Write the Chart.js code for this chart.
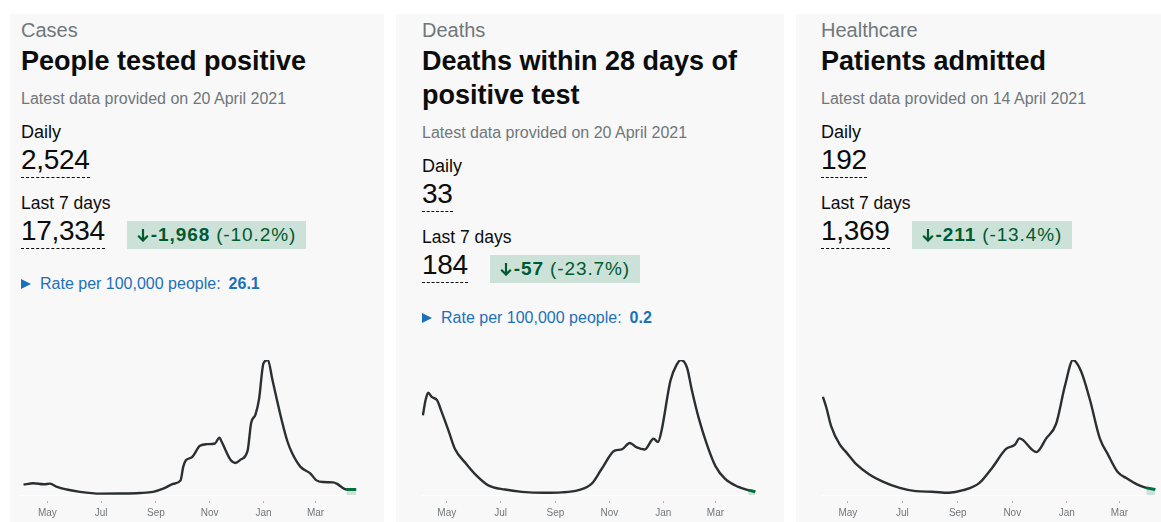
<!DOCTYPE html>
<html>
<head>
<meta charset="utf-8">
<script src="https://cdn.jsdelivr.net/npm/chart.js@4.4.0/dist/chart.umd.min.js"></script>
<style>
  body { margin: 0; background: #fff; width: 1161px; height: 522px; overflow: hidden; position: relative;
         font-family: "Liberation Sans", Arial, sans-serif; color: #0b0c0c; }
  .card { position: absolute; top: 14px; height: 540px; background: #f8f8f8; box-sizing: border-box; padding-right: 26px; }
  .cap { font-size: 20px; line-height: 32px; color: #6f777b; }
  h2 { font-size: 27px; line-height: 34px; margin: -2px 0 0; font-weight: bold; }
  .date { font-size: 16px; line-height: 20px; margin: 11px 0 0; color: #6f777b; }
  .lbl { font-size: 18px; line-height: 22px; margin-top: 12px; }
  .lbl.l7 { margin-top: 14px; font-size: 17.5px; }
  .num { display: flex; align-items: flex-end; }
  .num .v { font-size: 28px; line-height: 34px; border-bottom: 1px dashed #0b0c0c; letter-spacing: -0.3px; }
  .badge { margin-left: 22px; height: 28px; line-height: 28px; padding: 0 10px; background: #cce2d8; color: #005a30;
           font-size: 19px; letter-spacing: 0.9px; display: flex; align-items: center; white-space: nowrap; }
  .badge svg { margin-right: 2px; }
  .badge b { margin-right: 6px; }
  .rate { font-size: 16px; line-height: 20px; margin-top: 25px; color: #1d70b8; display: flex; align-items: center; }
  .rate .tri { width: 0; height: 0; border-left: 10px solid #1d70b8; border-top: 5.5px solid transparent;
               border-bottom: 5.5px solid transparent; margin-right: 9px; }
  .rate b { margin-left: 8px; }
  .chart { position: absolute; top: 326px; height: 183px; }
</style>
</head>
<body>

<div class="card" style="left:10px;width:374px;padding-left:11px">
  <div class="cap">Cases</div>
  <h2>People tested positive</h2>
  <p class="date">Latest data provided on 20 April 2021</p>
  <div class="lbl">Daily</div>
  <div class="num"><span class="v">2,524</span></div>
  <div class="lbl l7">Last 7 days</div>
  <div class="num"><span class="v">17,334</span>
    <span class="badge"><svg width="12" height="14" viewBox="0 0 12 14"><path d="M6 1V12.5M1.2 7.8L6 12.6 10.8 7.8" fill="none" stroke="#005a30" stroke-width="2.2"/></svg><b>-1,968</b>(-10.2%)</span></div>
  <div class="rate"><span class="tri"></span>Rate per 100,000 people:<b>26.1</b></div>
  <div class="chart" style="left:10px;width:337px"><canvas id="casesChart"></canvas></div>
</div>

<div class="card" style="left:396px;width:388px;padding-left:26px">
  <div class="cap">Deaths</div>
  <h2>Deaths within 28 days of positive test</h2>
  <p class="date">Latest data provided on 20 April 2021</p>
  <div class="lbl">Daily</div>
  <div class="num"><span class="v">33</span></div>
  <div class="lbl l7">Last 7 days</div>
  <div class="num"><span class="v">184</span>
    <span class="badge"><svg width="12" height="14" viewBox="0 0 12 14"><path d="M6 1V12.5M1.2 7.8L6 12.6 10.8 7.8" fill="none" stroke="#005a30" stroke-width="2.2"/></svg><b>-57</b>(-23.7%)</span></div>
  <div class="rate"><span class="tri"></span>Rate per 100,000 people:<b>0.2</b></div>
  <div class="chart" style="left:26px;width:335px"><canvas id="deathsChart"></canvas></div>
</div>

<div class="card" style="left:796px;width:390px;padding-left:25px">
  <div class="cap">Healthcare</div>
  <h2>Patients admitted</h2>
  <p class="date">Latest data provided on 14 April 2021</p>
  <div class="lbl">Daily</div>
  <div class="num"><span class="v">192</span></div>
  <div class="lbl l7">Last 7 days</div>
  <div class="num"><span class="v">1,369</span>
    <span class="badge"><svg width="12" height="14" viewBox="0 0 12 14"><path d="M6 1V12.5M1.2 7.8L6 12.6 10.8 7.8" fill="none" stroke="#005a30" stroke-width="2.2"/></svg><b>-211</b>(-13.4%)</span></div>
  <div class="chart" style="left:26px;width:335px"><canvas id="admissionsChart"></canvas></div>
</div>

<script>
// month ticks on the x axis
const monthTicks = ['2020-05-01', '2020-07-01', '2020-09-01', '2020-11-01', '2021-01-01', '2021-03-01'];
const monthLabels = ['May', 'Jul', 'Sep', 'Nov', 'Jan', 'Mar'];

// Cases - people tested positive
const casesDates = ['2020-04-04', '2020-04-15', '2020-04-27', '2020-05-04', '2020-05-12', '2020-05-23', '2020-06-07',
    '2020-06-30', '2020-07-22', '2020-08-14', '2020-08-29', '2020-09-10', '2020-09-21', '2020-09-29', '2020-10-02',
    '2020-10-05', '2020-10-12', '2020-10-21', '2020-10-29', '2020-11-07', '2020-11-12', '2020-11-15', '2020-11-25',
    '2020-11-30', '2020-12-06', '2020-12-14', '2020-12-18', '2020-12-23', '2020-12-27', '2021-01-01', '2021-01-06',
    '2021-01-11', '2021-01-16', '2021-01-22', '2021-01-28', '2021-02-02', '2021-02-12', '2021-02-23', '2021-03-02',
    '2021-03-10', '2021-03-21', '2021-03-25', '2021-04-05', '2021-04-16'];
const casesValues = [4600, 5200, 4750, 5050, 3600, 2450, 1400, 600, 650, 900, 1400, 2900, 5000, 6500, 12500,
    15400, 16800, 21900, 22600, 22900, 25500, 23300, 15400, 14250, 15700, 19700, 32000, 35800, 42700, 58600, 60000,
    51400, 42700, 32700, 24000, 19000, 12500, 9600, 6500, 5750, 5600, 5050, 2450, 2450];
const casesRecentFrom = '2021-04-05';

// Deaths within 28 days of positive test
const deathsDates = ['2020-04-04', '2020-04-07', '2020-04-10', '2020-04-14', '2020-04-20', '2020-04-25', '2020-05-03',
    '2020-05-10', '2020-05-22', '2020-06-02', '2020-06-17', '2020-07-06', '2020-07-25', '2020-08-20', '2020-09-08',
    '2020-09-27', '2020-10-12', '2020-10-23', '2020-11-07', '2020-11-15', '2020-11-24', '2020-12-02', '2020-12-11',
    '2020-12-21', '2020-12-26', '2020-12-30', '2021-01-09', '2021-01-16', '2021-01-21', '2021-01-28', '2021-02-02',
    '2021-02-10', '2021-02-19', '2021-03-01', '2021-03-12', '2021-03-27', '2021-04-07', '2021-04-15'];
const deathsValues = [803, 955, 1030, 988, 955, 842, 648, 469, 324, 210, 97, 55, 32, 22, 26,
    49, 114, 259, 447, 459, 524, 479, 459, 566, 534, 648, 1149, 1311, 1360, 1279, 1068,
    777, 518, 291, 162, 81, 49, 32];
const deathsRecentFrom = '2021-04-07';

// Healthcare - patients admitted
const admissionsDates = ['2020-04-03', '2020-04-07', '2020-04-12', '2020-04-22', '2020-04-29', '2020-05-10', '2020-05-25',
    '2020-06-09', '2020-06-28', '2020-07-16', '2020-08-03', '2020-08-22', '2020-09-07', '2020-09-25', '2020-10-10',
    '2020-10-25', '2020-11-04', '2020-11-09', '2020-11-28', '2020-12-09', '2020-12-20', '2020-12-30', '2021-01-08',
    '2021-01-17', '2021-01-27', '2021-02-07', '2021-02-16', '2021-02-27', '2021-03-09', '2021-03-20', '2021-03-31',
    '2021-04-10'];
const admissionsValues = [3333, 2952, 2357, 1706, 1455, 1055, 697, 456, 241, 130, 111, 78, 163, 404, 944,
    1562, 1706, 1920, 1455, 1920, 2409, 3711, 4580, 4199, 3222, 1920, 1380, 781, 566, 371, 241, 185];
const admissionsRecentFrom = '2021-03-31';

const dayNum = s => Date.parse(s + 'T00:00:00Z') / 86400000;
const tickDays = monthTicks.map(dayNum);

function drawChart(id, dates, values, recentFrom, xMin, xMax) {
    const points = dates.map((d, i) => ({ x: dayNum(d), y: values[i] }));
    const recent = points.filter(p => p.x >= dayNum(recentFrom));

    return new Chart(document.getElementById(id), {
        type: 'line',
        data: {
            datasets: [
                {
                    data: recent,
                    borderColor: '#00703c',
                    borderWidth: 3,
                    backgroundColor: '#cce2d8',
                    fill: 'origin',
                    pointRadius: 0
                },
                {
                    data: points,
                    borderColor: '#2b2f31',
                    borderWidth: 2.4,
                    pointRadius: 0,
                    cubicInterpolationMode: 'monotone',
                    fill: false
                }]
        },
        options: {
            responsive: true,
            maintainAspectRatio: false,
            animation: false,
            layout: { padding: { top: 20 } },
            plugins: { legend: { display: false }, tooltip: { enabled: false } },
            scales: {
                x: {
                    type: 'linear',
                    min: dayNum(xMin),
                    max: dayNum(xMax),
                    afterBuildTicks: axis => { axis.ticks = tickDays.map(v => ({ value: v })); },
                    ticks: {
                        autoSkip: false,
                        maxRotation: 0,
                        padding: 4,
                        color: '#6f777b',
                        font: { size: 10, family: 'Liberation Sans, Arial, sans-serif' },
                        callback: v => { const i = tickDays.indexOf(v); return i >= 0 ? monthLabels[i] : ''; }
                    },
                    grid: {
                        display: true,
                        drawOnChartArea: false,
                        tickLength: 8,
                        tickColor: '#b1b4b6',
                        tickBorderDash: [0, 5, 3, 10]
                    },
                    border: { display: true, color: '#ffffff', width: 1 }
                },
                y: {
                    display: false,
                    min: 0,
                    max: Math.max(...values)
                }
            }
        }
    });
}

drawChart('casesChart', casesDates, casesValues, casesRecentFrom, '2020-03-31', '2021-04-17');
drawChart('deathsChart', deathsDates, deathsValues, deathsRecentFrom, '2020-04-03', '2021-04-17');
drawChart('admissionsChart', admissionsDates, admissionsValues, admissionsRecentFrom, '2020-04-02', '2021-04-12');
</script>
</body>
</html>
